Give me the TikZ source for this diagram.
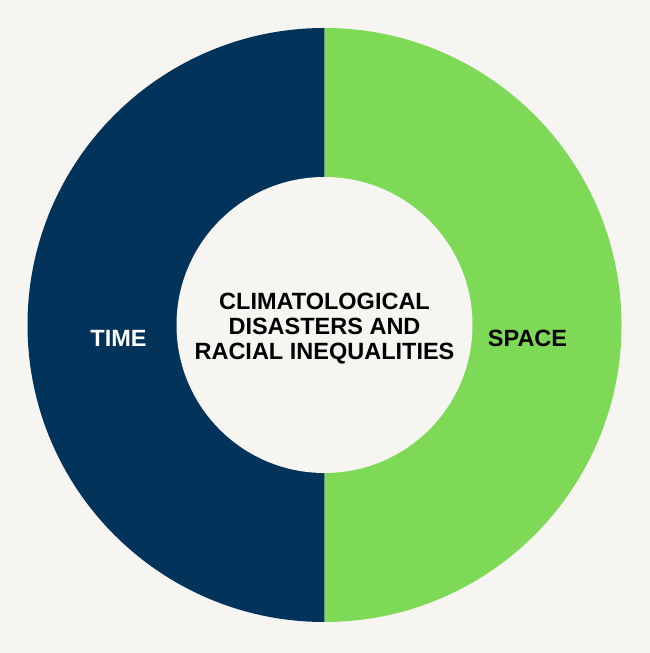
\documentclass[tikz,border=0pt]{standalone}
\usepackage{fontspec}
\setmainfont{Liberation Sans}
\usepackage{tikz}
\usetikzlibrary{calc,positioning}
\definecolor{bgpaper}{HTML}{F6F5F1}
\definecolor{timeblue}{HTML}{02335A}
\definecolor{spacegreen}{HTML}{7ED957}
\tikzset{
  label/.style={font=\fontsize{23.5}{25}\selectfont\bfseries, align=center, inner sep=0pt}
}

\begin{document}
\begin{tikzpicture}[x=1pt,y=1pt]
                      \fill [bgpaper] (0,0) rectangle (650,653);
                      \useasboundingbox (0,0) rectangle (650,653);
                      \coordinate (O) at (324.5,328);
                      \fill [timeblue] ($(O)+(0,297)$) arc (90:270:297) -- cycle;
                      \fill [spacegreen] ($(O)+(0,297)$) arc (90:-90:297) -- cycle;
                      \fill [bgpaper] (O) circle (148);
                      \node [label] (centre) at ($(O)+(0,-4)$) {CLIMATOLOGICAL\\DISASTERS AND\\RACIAL INEQUALITIES};
                      \node [label, text=white] (time) at ($(O)+(-206,-13)$) {TIME};
                      \node [label, text=black] (space) at ($(O)+(203,-13)$) {SPACE};
                  \end{tikzpicture}
\end{document}
